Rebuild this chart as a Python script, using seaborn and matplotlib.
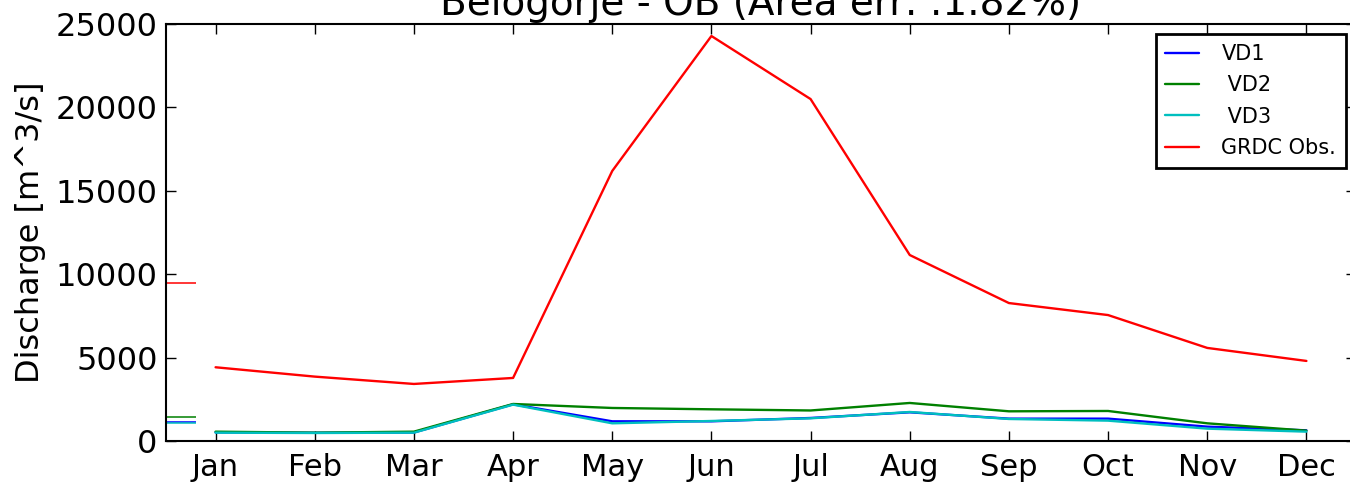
import numpy as np
import pandas as pd
import matplotlib
matplotlib.use("Agg")
import matplotlib.pyplot as plt
import seaborn as sns

months = ["Jan", "Feb", "Mar", "Apr", "May", "Jun", "Jul", "Aug", "Sep", "Oct", "Nov", "Dec"]
vd1 = [520, 490, 510, 2200, 1180, 1180, 1380, 1720, 1340, 1340, 860, 640]
vd2 = [560, 500, 560, 2220, 1980, 1900, 1830, 2280, 1780, 1800, 1060, 620]
vd3 = [500, 480, 500, 2180, 1060, 1200, 1360, 1740, 1320, 1220, 740, 560]
grdc = [4420, 3860, 3420, 3780, 16190, 24280, 20500, 11150, 8270, 7550, 5580, 4800]

series_names = ["VD1", " VD2", " VD3", "GRDC Obs."]
series_values = [vd1, vd2, vd3, grdc]
series_colors = ["#0000ff", "#008000", "#00bfbf", "#ff0000"]

sns.set_style("ticks", {
    "xtick.direction": "in", "ytick.direction": "in",
    "xtick.top": True, "ytick.right": True,
    "axes.edgecolor": "black", "text.color": "black",
    "axes.labelcolor": "black", "xtick.color": "black", "ytick.color": "black",
})
plt.rcParams["font.family"] = ["DejaVu Sans"]

fig = plt.figure(figsize=(13.5, 4.84), dpi=100)
ax = fig.add_axes([166 / 1350, 1 - 441 / 484, (1356 - 166) / 1350, (441 - 24) / 484])

x = np.arange(1, 13)
for name, vals, col in zip(series_names, series_values, series_colors):
    df = pd.DataFrame({"month": x, "value": vals})
    sns.lineplot(data=df, x="month", y="value", color=col, lw=1.7, label=name, ax=ax)

# annual means drawn as short ticks at the left edge
for vals, col in zip(series_values, series_colors):
    ax.hlines(np.mean(vals), 0.5, 0.8, color=col, lw=1.1)

ax.set_xlim(0.5, 12.5)
ax.set_ylim(0, 25000)
ax.set_xticks(x)
ax.set_xticklabels(months)
ax.set_yticks(np.arange(0, 25001, 5000))
ax.tick_params(axis="both", which="major", length=7, width=1,
               direction="in", top=True, right=True, colors="black")
ax.tick_params(axis="x", labelsize=22, pad=9)
ax.tick_params(axis="y", labelsize=23, pad=6)
for s in ax.spines.values():
    s.set_linewidth(1.5)
    s.set_color("black")
ax.set_xlabel("")
ax.set_ylabel("Discharge [m^3/s]", fontsize=23, labelpad=7, color="black")
ax.set_title("Belogorje - OB (Area err: .1.82%)", fontsize=28, pad=6.5, color="black")

leg = ax.legend(loc="upper right", fontsize=15, fancybox=False, framealpha=1,
                edgecolor="black", handlelength=1.6, handletextpad=1.1,
                borderaxespad=0.5, labelspacing=0.55, borderpad=0.45)
leg.get_frame().set_linewidth(2)
for t in leg.get_texts():
    t.set_color("black")

fig.savefig("out.png", dpi=100)
